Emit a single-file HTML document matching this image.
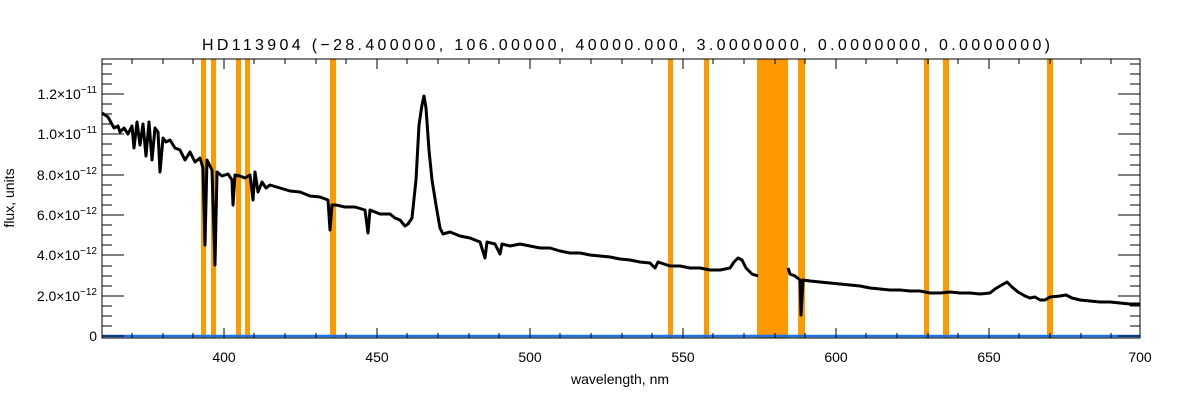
<!DOCTYPE html>
<html><head><meta charset="utf-8"><style>
html,body{margin:0;padding:0;background:#fff;}
svg{display:block;}
text{font-family:"Liberation Sans",sans-serif;font-size:14px;fill:#000;}
</style></head><body>
<svg width="1200" height="400" viewBox="0 0 1200 400">
<text x="202" y="50" textLength="848" lengthAdjust="spacing" style="font-size:16px">HD113904    (−28.400000, 106.00000, 40000.000, 3.0000000, 0.0000000, 0.0000000)</text>
<g fill="#ff9900">
<rect x="201" y="59" width="5" height="279"/>
<rect x="211" y="59" width="5" height="279"/>
<rect x="236" y="59" width="5" height="279"/>
<rect x="245" y="59" width="5" height="279"/>
<rect x="330" y="59" width="6" height="279"/>
<rect x="668" y="59" width="5" height="279"/>
<rect x="704" y="59" width="5" height="279"/>
<rect x="757" y="59" width="31" height="279"/>
<rect x="798" y="59" width="7" height="279"/>
<rect x="924" y="59" width="5" height="279"/>
<rect x="943" y="59" width="6" height="279"/>
<rect x="1047" y="59" width="6" height="279"/>
</g>
<g fill="none" stroke="#000" stroke-width="3" stroke-linejoin="round">
<polyline points="102,113 108,117 114,128 118,126 120,132 124,128 128,134 132,126 134,148 137,122 140,145 143,124 146,156 149,122 152,160 155,128 158,132 160,172 163,138 166,142 170,140 175,148 180,150 185,160 190,152 195,162 200,158 203,168 205,245 207,160 212,170 215,265 217,172 222,176 228,174 232,180 233,205 235,175 240,176 245,178 250,175 253,200 255,172 258,192 262,182 266,188 270,185 280,188 290,191 300,192 310,196 320,197 328,200 330,230 332,205 336,205 345,207 355,207 365,210 368,233 370,210 380,214 390,214 395,218 400,220 405,226 408,224 412,218 416,180 419,125 422,105 424,96 426,108 429,150 432,180 436,205 440,228 443,234 450,232 460,236 470,238 480,242 485,258 487,242 495,244 500,254 502,244 510,246 520,244 530,246 540,248 550,248 560,251 570,253 580,253 590,255 600,256 610,257 620,259 630,260 640,262 650,263 655,268 658,262 670,266 680,266 690,268 700,268 710,270 720,270 730,268 734,262 738,258 742,260 746,268 752,274 758,276"/>
<polyline points="788,268 790,274 795,276 800,280 801,315 803,280 810,281 820,282 830,283 840,284 850,285 860,286 870,288 880,289 890,290 900,290 910,291 920,291 930,293 940,293 950,292 960,293 970,293 980,294 990,293 995,289 1000,286 1007,282 1012,287 1018,292 1025,296 1030,298 1035,297 1040,300 1045,300 1050,297 1060,296 1066,295 1072,298 1080,300 1090,301 1100,302 1110,302 1120,303 1130,304 1140,304"/>
</g>
<line x1="102" y1="336" x2="1140" y2="336" stroke="#1a73e8" stroke-width="2.5"/>
<rect x="102" y="59" width="1038" height="279" fill="none" stroke="#000" stroke-width="1"/>
<g stroke="#000" stroke-width="1">
<path d="M102,336h22M102,296h22M102,255h22M102,215h22M102,175h22M102,134h22M102,94h22
M1140,336h-22M1140,296h-22M1140,255h-22M1140,215h-22M1140,175h-22M1140,134h-22M1140,94h-22"/>
<path d="M102,326h10M102,316h10M102,306h10M102,286h10M102,276h10M102,266h10M102,245h10M102,235h10M102,225h10M102,205h10M102,195h10M102,185h10M102,165h10M102,155h10M102,144h10M102,124h10M102,114h10M102,104h10M102,84h10M102,74h10M102,64h10
M1140,326h-10M1140,316h-10M1140,306h-10M1140,286h-10M1140,276h-10M1140,266h-10M1140,245h-10M1140,235h-10M1140,225h-10M1140,205h-10M1140,195h-10M1140,185h-10M1140,165h-10M1140,155h-10M1140,144h-10M1140,124h-10M1140,114h-10M1140,104h-10M1140,84h-10M1140,74h-10M1140,64h-10"/>
<path d="M224,338v-10M377,338v-10M530,338v-10M683,338v-10M836,338v-10M989,338v-10
M224,59v10M377,59v10M530,59v10M683,59v10M836,59v10M989,59v10
M132,338v-5M163,338v-5M193,338v-5M254,338v-5M285,338v-5M316,338v-5M346,338v-5M407,338v-5M438,338v-5M469,338v-5M499,338v-5M560,338v-5M591,338v-5M622,338v-5M652,338v-5M713,338v-5M744,338v-5M775,338v-5M805,338v-5M866,338v-5M897,338v-5M928,338v-5M958,338v-5M1019,338v-5M1050,338v-5M1081,338v-5M1111,338v-5
M132,59v5M163,59v5M193,59v5M254,59v5M285,59v5M316,59v5M346,59v5M407,59v5M438,59v5M469,59v5M499,59v5M560,59v5M591,59v5M622,59v5M652,59v5M713,59v5M744,59v5M775,59v5M805,59v5M866,59v5M897,59v5M928,59v5M958,59v5M1019,59v5M1050,59v5M1081,59v5M1111,59v5"/>
</g>
<g text-anchor="end">
<text x="97" y="341">0</text>
<text x="97" y="301">2.0×10<tspan dy="-6" style="font-size:10px">−12</tspan></text>
<text x="97" y="260">4.0×10<tspan dy="-6" style="font-size:10px">−12</tspan></text>
<text x="97" y="220">6.0×10<tspan dy="-6" style="font-size:10px">−12</tspan></text>
<text x="97" y="180">8.0×10<tspan dy="-6" style="font-size:10px">−12</tspan></text>
<text x="97" y="139">1.0×10<tspan dy="-6" style="font-size:10px">−11</tspan></text>
<text x="97" y="99">1.2×10<tspan dy="-6" style="font-size:10px">−11</tspan></text>
</g>
<g text-anchor="middle">
<text x="224" y="362">400</text>
<text x="377" y="362">450</text>
<text x="530" y="362">500</text>
<text x="683" y="362">550</text>
<text x="836" y="362">600</text>
<text x="989" y="362">650</text>
<text x="1140" y="362">700</text>
<text x="620" y="384">wavelength, nm</text>
</g>
<text transform="translate(14,198) rotate(-90)" text-anchor="middle">flux, units</text>
</svg>
</body></html>
